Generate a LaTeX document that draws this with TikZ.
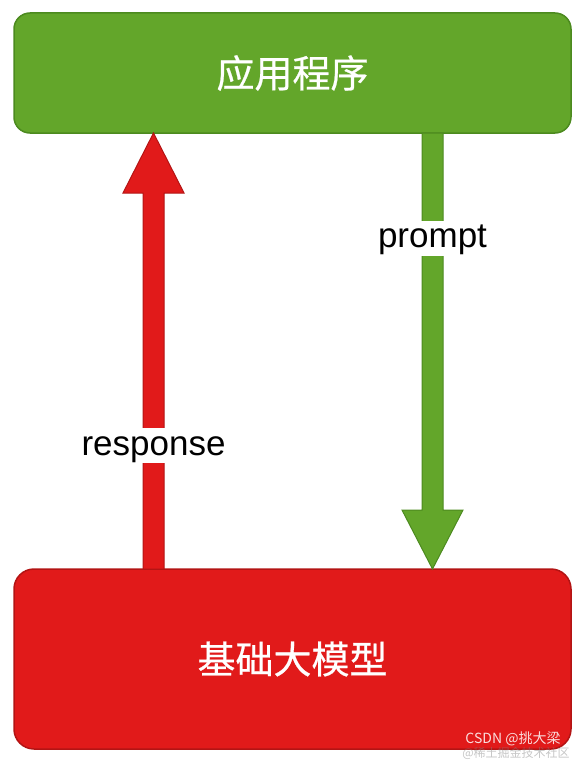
\documentclass[tikz,border=0pt]{standalone}
\usepackage{fontspec}
\setmainfont{Liberation Sans}
\newfontfamily\cjk[FakeBold=0.6]{Noto Sans CJK SC}
\newfontfamily\cjkmark{Noto Sans CJK SC}
\usetikzlibrary{calc}
\definecolor{gfill}{HTML}{63A62A}
\definecolor{gline}{HTML}{4C8A1F}
\definecolor{rfill}{HTML}{E11A1A}
\definecolor{rline}{HTML}{B31414}
\tikzset{
  greenbox/.style={draw=gline, fill=gfill, line width=1.5pt, rounded corners=16pt,
    text=white, font=\cjk\fontsize{38}{44}\selectfont},
  redbox/.style={draw=rline, fill=rfill, line width=1.5pt, rounded corners=20pt,
    text=white, font=\cjk\fontsize{38}{44}\selectfont},
  greenarrow/.style={draw=gline, fill=gfill, line width=1pt, line join=miter},
  redarrow/.style={draw=rline, fill=rfill, line width=1pt, line join=miter},
  lbl/.style={fill=white, inner xsep=1pt, inner ysep=0pt, text height=27pt, text depth=8pt,
    font=\fontsize{35}{40}\selectfont},
  mark1/.style={font=\cjkmark\fontsize{14}{16}\selectfont, text=white, opacity=0.85, inner sep=0pt},
  mark2/.style={font=\cjkmark\fontsize{12}{14}\selectfont, text=gray, opacity=0.45, inner sep=0pt}
}
\begin{document}
\begin{tikzpicture}[x=1pt,y=-1pt]
\useasboundingbox (0,0) rectangle (580,760);
% boxes
\node[greenbox, minimum width=557pt, minimum height=120pt] (app) at (292.5,73) {应用程序};
\node[redbox, minimum width=557pt, minimum height=180pt] (model) at (292.5,659) {基础大模型};
% red arrow (response), up
\coordinate (rtip) at (153.5,133);
\coordinate (rbase) at (153.5,569);
\draw[redarrow] (rbase) ++(-10.5,0) -- ++(0,-376) -- ++(-20,0) -- (rtip) -- ++(30.5,60) -- ++(-20,0) -- ++(0,376) -- cycle;
% green arrow (prompt), down
\coordinate (gtip) at (432.5,569);
\coordinate (gbase) at (432.5,133);
\draw[greenarrow] (gbase) ++(-10.5,0) -- ++(0,377) -- ++(-20,0) -- (gtip) -- ++(30.5,-59) -- ++(-20,0) -- ++(0,-377) -- cycle;
% labels
\node[lbl] (resp) at (153.5,445.5) {response};
\node[lbl] (prm) at (432.5,238) {prompt};
% watermark
\node[mark1] (wm1) at (513,739) {CSDN @挑大梁};
\node[mark2] (wm2) at (516,753.5) {@稀土掘金技术社区};
\end{tikzpicture}
\end{document}
